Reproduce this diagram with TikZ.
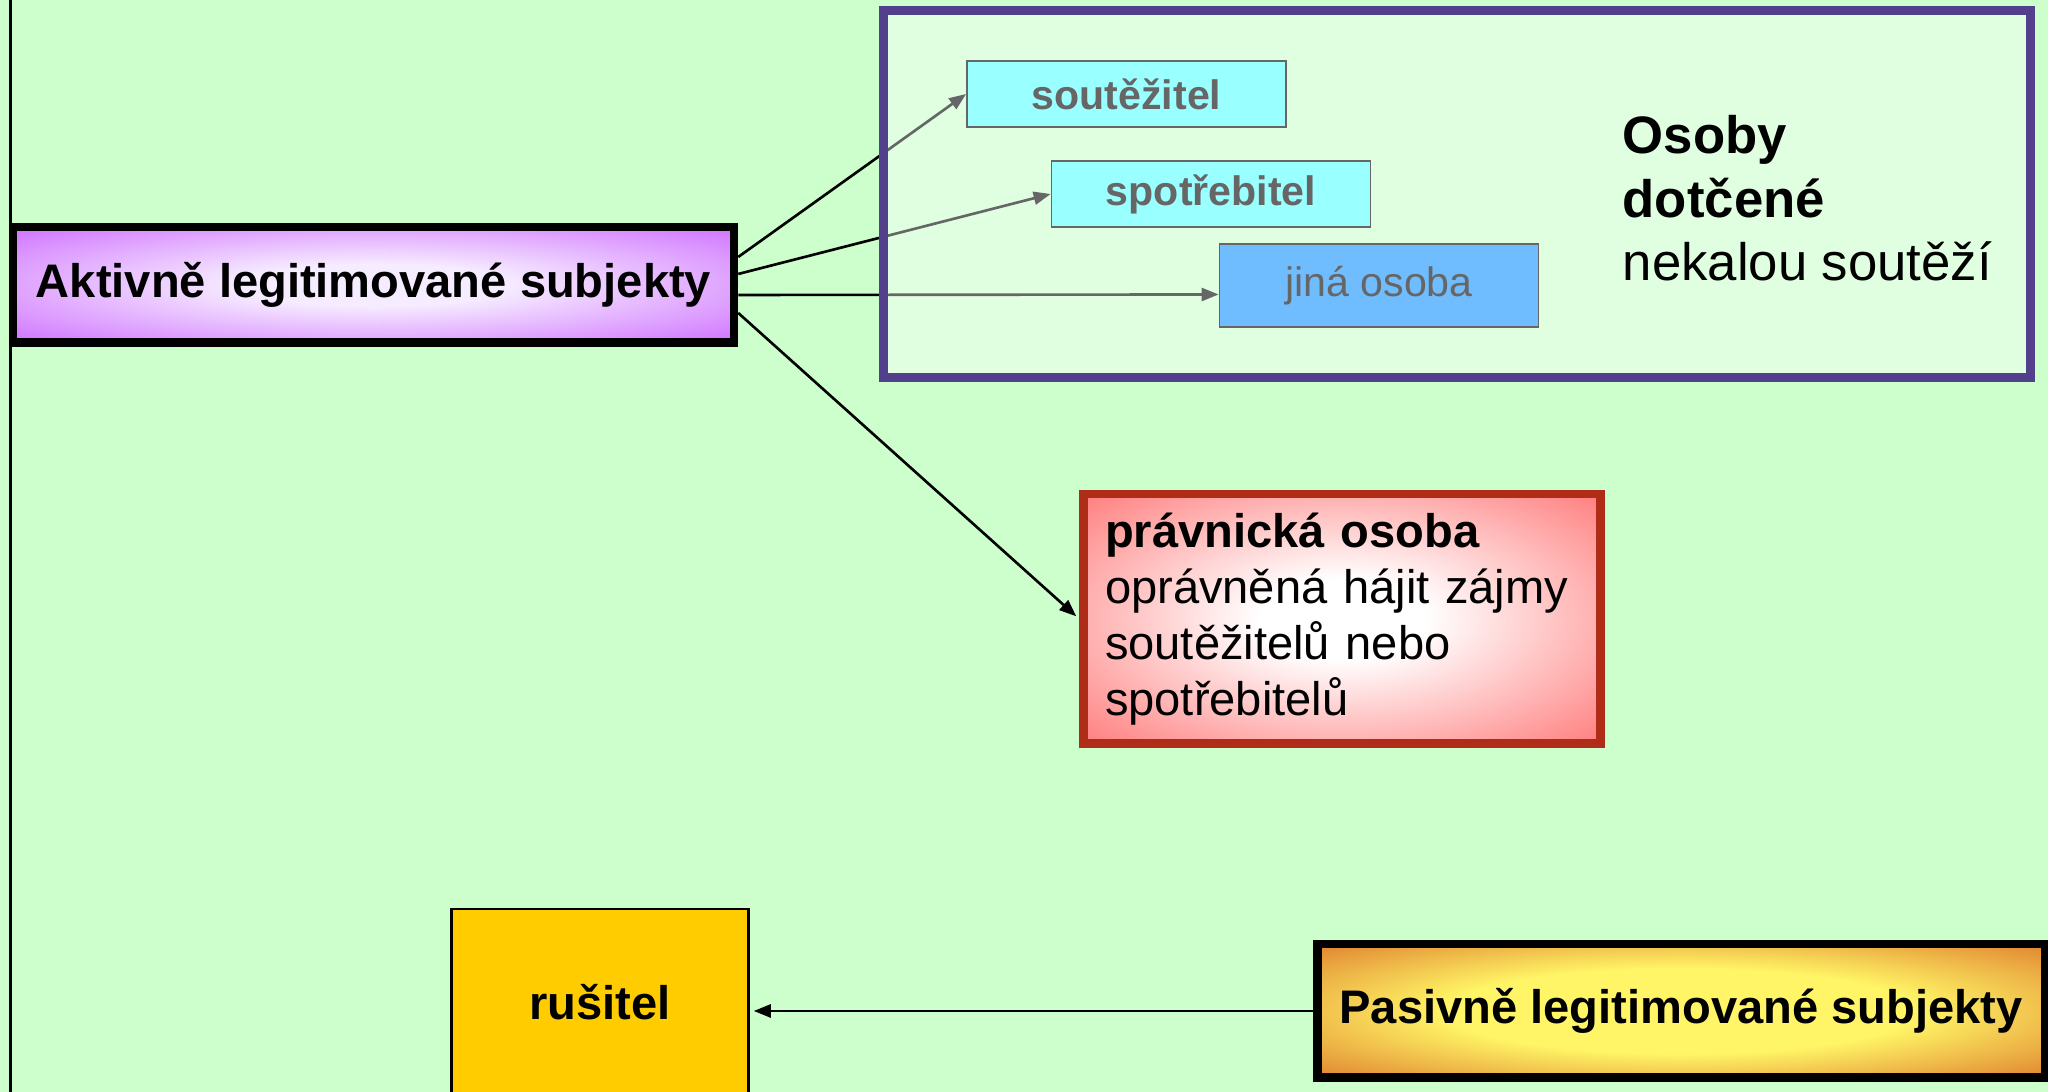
\documentclass[tikz,border=0pt]{standalone}
\usepackage{fontspec}
\setmainfont{Liberation Sans}
\usetikzlibrary{arrows.meta}

\definecolor{bggreen}{HTML}{CCFFCC}
\definecolor{framepurple}{HTML}{52408C}
\definecolor{aktin}{HTML}{F6ECFF}
\definecolor{aktout}{HTML}{CC66FF}
\definecolor{pravin}{HTML}{FFFFFF}
\definecolor{pravout}{HTML}{FF5555}
\definecolor{pravborder}{HTML}{AE2C18}
\definecolor{pasin}{HTML}{FFF566}
\definecolor{pasout}{HTML}{CC3A0C}
\definecolor{soutcyan}{HTML}{55FFFF}
\definecolor{jinablue}{HTML}{1090FF}
\definecolor{rusyellow}{HTML}{FFCC00}

\pgfdeclareradialshading{aktshade}{\pgfpoint{0bp}{0bp}}{color(0bp)=(aktin); color(9bp)=(aktin); color(38bp)=(aktout); color(50bp)=(aktout)}
\pgfdeclareradialshading{pravshade}{\pgfpoint{0bp}{0bp}}{color(0bp)=(pravin); color(8bp)=(pravin); color(44bp)=(pravout); color(50bp)=(pravout)}
\pgfdeclareradialshading{passhade}{\pgfpoint{0bp}{0bp}}{color(0bp)=(pasin); color(16bp)=(pasin); color(48bp)=(pasout); color(50bp)=(pasout)}

\begin{document}
\begin{tikzpicture}[>={Triangle[length=0.17cm,width=0.13cm]}]

    \tikzset{
      bigbox/.style={
        draw=black,
        line width=0.085cm,
        inner sep=0pt,
        font=\bfseries\fontsize{13.4}{16}\selectfont,
      },
      smallbox/.style={
        draw=black,
        line width=0.5pt,
        inner sep=0pt,
        minimum width=3.19cm,
        minimum height=0.66cm,
        font=\bfseries\fontsize{11.7}{14}\selectfont,
      },
      link/.style={->, line width=0.75pt},
    }
    \useasboundingbox (0,0) rectangle (20.48,10.92);
    \clip (0,0) rectangle (20.48,10.92);
    \fill[bggreen] (0,0) rectangle (20.48,10.92);
    \draw[line width=0.03cm] (0.1,0) -- (0.1,10.92);

    % left side
    \node[bigbox, shading=aktshade, minimum width=7.21cm, minimum height=1.155cm] (akt) at (3.735,8.07) {Aktivně legitimované subjekty};

    % persons touched by unfair competition
    \node[smallbox, fill=soutcyan] (sout) at (11.265,9.98) {soutěžitel};
    \node[smallbox, fill=soutcyan] (spot) at (12.11,8.98) {spotřebitel};
    \node[smallbox, fill=jinablue, minimum height=0.83cm, font=\fontsize{11.7}{14}\selectfont] (jina) at (13.79,8.065) {jiná osoba};

    \node[bigbox, draw=pravborder, shading=pravshade, minimum width=5.17cm, minimum height=2.495cm, text width=4.74cm, align=left, font=\fontsize{13.4}{15.9}\selectfont] (prav) at (13.42,4.73) {\textbf{právnická osoba}\\ oprávněná hájit zájmy\\ soutěžitelů nebo\\ spotřebitelů};

    % bottom row
    \node[draw=black, line width=0.025cm, fill=rusyellow, minimum width=2.97cm, minimum height=1.86cm, font=\bfseries\fontsize{13.4}{16}\selectfont] (rus) at (6.0,0.9) {rušitel};
    \node[bigbox, shading=passhade, minimum width=7.275cm, minimum height=1.335cm] (pas) at (16.81,0.81) {Pasivně legitimované subjekty};

    \draw[link] ([yshift=0.28cm]akt.east) -- (sout.west);
    \draw[link] ([yshift=0.11cm]akt.east) -- (spot.west);
    \draw[link] ([yshift=-0.1cm]akt.east) -- ([yshift=-0.09cm]jina.west);
    \draw[link, shorten >=0.04cm] ([yshift=-0.28cm]akt.east) -- (prav.west);
    \draw[link, shorten >=0.04cm] (pas.west) -- (rus.east |- pas.west);

    % frame over the persons
    \node[draw=framepurple, line width=0.09cm, fill=white, fill opacity=0.4, inner sep=0pt, minimum width=11.475cm, minimum height=3.665cm] (frame) at (14.57,8.98) {};
    \node[anchor=north west, inner sep=0pt, align=left, font=\fontsize{15}{18}\selectfont] (osoby) at (16.22,9.77) {\textbf{Osoby}\\ \textbf{dotčené}\\ nekalou soutěží};

\end{tikzpicture}
\end{document}
